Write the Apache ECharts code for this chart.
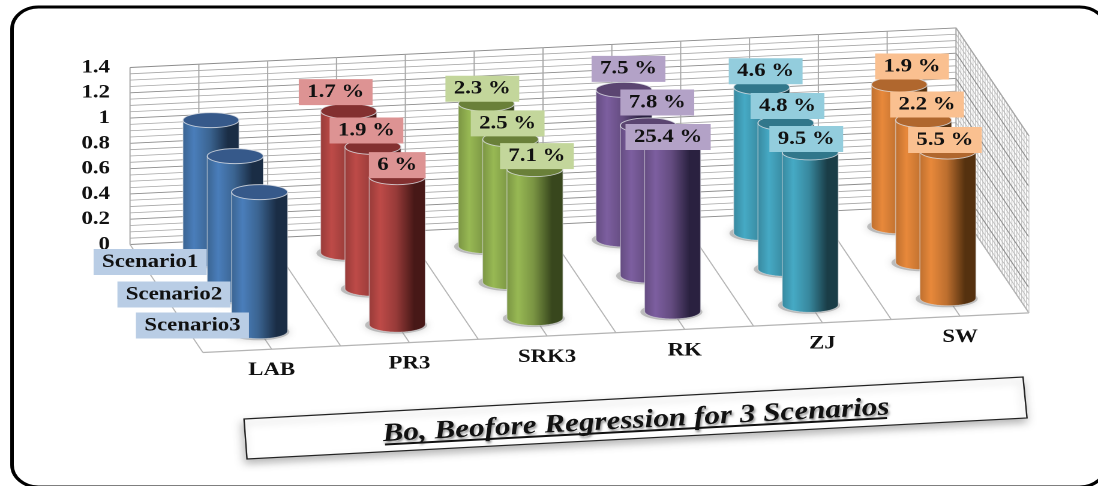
<!DOCTYPE html>
<html>
<head>
<meta charset="utf-8">
<style>
  html, body { margin: 0; padding: 0; background: #fff; overflow: hidden; }
  /* The drawing is laid out narrow and widened as a whole, type and cylinders alike. */
  #chart { width: 915px; height: 486px; transform: scaleX(1.2); transform-origin: 0 0; }
</style>
<script src="https://cdn.jsdelivr.net/npm/echarts@6/dist/echarts.min.js"></script>
</head>
<body>
<div id="chart"></div>
<script>
// ---- Data ----
const categories = ['LAB', 'PR3', 'SRK3', 'RK', 'ZJ', 'SW'];
const scenarioNames = ['Scenario1', 'Scenario2', 'Scenario3'];
const scenario1 = [1.1, 1.119, 1.125, 1.183, 1.151, 1.121];
const scenario2 = [1.1, 1.121, 1.128, 1.186, 1.153, 1.124];
const scenario3 = [1.1, 1.166, 1.178, 1.379, 1.205, 1.16];
const errors1 = [null, '1.7 %', '2.3 %', '7.5 %', '4.6 %', '1.9 %'];
const errors2 = [null, '1.9 %', '2.5 %', '7.8 %', '4.8 %', '2.2 %'];
const errors3 = [null, '6 %', '7.1 %', '25.4 %', '9.5 %', '5.5 %'];
const chartTitle = 'Bo, Beofore Regression for 3 Scenarios';

// ---- Layout (horizontal lengths are in final page pixels, see sx) ----
const WIDEN = 1.2;
const sx = (px) => px / WIDEN;
const DEPTH_X = sx(24.3);   // screen shift per depth row
const DEPTH_Y = 36;
const RISE = -6.6;          // floor rises to the right, per category
const RADIUS_X = sx(28);
const RADIUS_Y = 7.5;
const FONT = 'bold 19px "Liberation Serif", "Times New Roman", serif';

// Hand-placed callout offsets from each cylinder's top centre, [dx, dy] per category.
const calloutNudge = [
  [null, [-13, -19], [-4, -15], [4.5, -21], [4, -16], [12.7, -18]],
  [null, [-6.5, -16.4], [-3, -16], [9, -23], [1.5, -17], [3.4, -15.6]],
  [null, [0, -12], [2, -13], [-4.5, 0], [-4, -13.5], [-3, -11.6]]
];
const rowLabelNudge = [[8, -0.5], [7.5, -4], [1.7, -9]];

const palette = [
  { base: '#4a7ebb', mid: '#3b6491', dark: '#1a2d45', top: '#36598a', tag: '#b9cde5' },
  { base: '#be4b48', mid: '#973b39', dark: '#471817', top: '#833030', tag: '#dd9393' },
  { base: '#98b954', mid: '#7a9443', dark: '#38471d', top: '#6a8039', tag: '#c3d69b' },
  { base: '#7d5fa0', mid: '#644c80', dark: '#2a2140', top: '#5b4571', tag: '#b3a2c7' },
  { base: '#46aac5', mid: '#38889e', dark: '#1a3d47', top: '#31778b', tag: '#93cddd' },
  { base: '#e8893b', mid: '#bd6f2f', dark: '#55310f', top: '#b0672e', tag: '#fac090' }
];

// Maps (category position, depth row, value) onto the tilted floor, using the axes' scales.
function projector(api) {
  const band = api.size([1, 0])[0];
  const x0 = api.coord([0, 0])[0] - band / 2;
  return (u, d, v) => {
    const c = api.coord([0, v]);
    return [x0 + u * band + d * DEPTH_X, c[1] + u * RISE + d * DEPTH_Y];
  };
}

const line = (a, b, stroke, lineWidth) => ({
  type: 'line',
  shape: { x1: a[0], y1: a[1], x2: b[0], y2: b[1] },
  style: { stroke, lineWidth }
});

// Back wall, side wall and floor.
function renderRoom(params, api) {
  const p = projector(api);
  const n = categories.length, depth = scenarioNames.length, top = 1.4;
  const kids = [];
  // side wall hatch
  for (let d = 0; d <= depth; d += 0.1) kids.push(line(p(n, d, 0), p(n, d, top), '#c4c4c4', 0.7));
  for (let k = 0; k <= 28; k++) {
    const v = k * 0.05;
    const major = k % 4 === 0;
    kids.push(line(p(n, 0, v), p(n, depth, v), major ? '#8e8e8e' : '#bcbcbc', major ? 0.9 : 0.7));
    // back wall rules
    kids.push(line(p(0, 0, v), p(n, 0, v), major ? '#8c8c8c' : '#a6a6a6', major ? 0.9 : 0.8));
  }
  // back wall uprights and floor rules at every half category
  for (let h = 0; h <= n * 2; h++) {
    const u = h / 2;
    kids.push(line(p(u, 0, 0), p(u, 0, top), h === 0 ? '#aaaaaa' : '#a8a8a8', 1));
    kids.push(line(p(u, 0, 0), p(u, depth, 0), '#b4b4b4', 1));
  }
  kids.push(line(p(n, 0, top), p(n, depth, top), '#a8a8a8', 1));
  kids.push(line(p(n, depth, 0), p(n, depth, top), '#d0d0d0', 0.8));
  kids.push(line(p(0, depth, 0), p(n, depth, 0), '#b4b4b4', 1.2));
  return { type: 'group', children: kids };
}

// One row of cylinders.
function cylinderRenderer(row) {
  return (params, api) => {
    const p = projector(api);
    const i = api.value(0), v = api.value(1);
    const c = palette[i];
    const foot = p(i + 0.5, row + 0.5, 0);
    const head = p(i + 0.5, row + 0.5, v);
    const outline = [[foot[0] - RADIUS_X, head[1]]];
    for (let a = 0; a <= 24; a++) {
      const t = Math.PI - (a / 24) * Math.PI;
      outline.push([foot[0] + RADIUS_X * Math.cos(t), foot[1] + RADIUS_Y * Math.sin(t)]);
    }
    outline.push([foot[0] + RADIUS_X, head[1]]);
    return {
      type: 'group',
      children: [
        {
          type: 'ellipse',
          shape: { cx: foot[0] - 1, cy: foot[1] + 0.5, rx: RADIUS_X + 2.5, ry: RADIUS_Y + 1 },
          style: { fill: 'rgba(120,120,120,0.4)', shadowBlur: 7, shadowColor: 'rgba(110,110,110,0.75)' }
        },
        {
          type: 'polygon',
          shape: { points: outline },
          style: {
            fill: {
              type: 'linear', x: 0, y: 0, x2: 1, y2: 0,
              colorStops: [
                { offset: 0, color: c.mid },
                { offset: 0.2, color: c.base },
                { offset: 0.48, color: c.mid },
                { offset: 0.8, color: c.dark },
                { offset: 1, color: c.dark }
              ]
            },
            stroke: 'rgba(225,228,232,0.55)',
            lineWidth: 0.8
          }
        },
        {
          type: 'ellipse',
          shape: { cx: head[0], cy: head[1], rx: RADIUS_X, ry: RADIUS_Y },
          style: { fill: c.top, stroke: 'rgba(225,228,232,0.8)', lineWidth: 0.9 }
        }
      ]
    };
  };
}

const tagText = (x, y, text, fill) => ({
  type: 'text',
  x, y,
  style: {
    text,
    font: FONT,
    fill: '#111',
    align: 'center',
    verticalAlign: 'middle',
    lineHeight: 19,
    backgroundColor: fill,
    padding: [3.5, 7]
  }
});

// Percentage callouts above the cylinders.
function renderCallout(params, api) {
  const p = projector(api);
  const i = api.value(0), row = api.value(1), v = api.value(2);
  const text = [errors1, errors2, errors3][row][i];
  if (!text) return null;
  const head = p(i + 0.5, row + 0.5, v);
  const n = calloutNudge[row][i];
  return tagText(head[0] + sx(n[0]), head[1] + n[1], text, palette[i].tag);
}

// Depth-row names beside the floor's left edge.
function renderRowLabel(params, api) {
  const p = projector(api);
  const row = api.value(0);
  const at = p(0, row + 0.5, 0);
  const n = rowLabelNudge[row];
  return tagText(at[0] + sx(n[0]), at[1] + n[1], scenarioNames[row], palette[0].tag);
}

// Category names in front of the floor.
function renderCategoryLabel(params, api) {
  const p = projector(api);
  const i = api.value(0);
  const at = p(i + 0.5, scenarioNames.length, 0);
  return {
    type: 'text',
    x: at[0], y: at[1] + 21,
    style: { text: categories[i], font: FONT, fill: '#111', align: 'center', verticalAlign: 'middle' }
  };
}

const rows = [scenario1, scenario2, scenario3];
const calloutData = [];
rows.forEach((values, row) => values.forEach((v, i) => calloutData.push([i, row, v])));

const custom = (name, renderItem, data, z) => ({
  type: 'custom', name, renderItem, data, z, silent: true,
  coordinateSystem: 'cartesian2d', clip: false,
  encode: { x: 0, y: 2 }
});

const option = {
  animation: false,
  backgroundColor: '#fff',
  grid: { left: sx(130), width: sx(826), top: 67.5, height: 177 },
  xAxis: {
    type: 'category',
    data: categories,
    axisLine: { show: false }, axisTick: { show: false }, axisLabel: { show: false }, splitLine: { show: false }
  },
  yAxis: {
    type: 'value',
    min: 0, max: 1.4, interval: 0.2,
    axisLine: { show: false }, axisTick: { show: false }, splitLine: { show: false },
    axisLabel: {
      margin: sx(20),
      color: '#111',
      fontFamily: '"Liberation Serif", "Times New Roman", serif',
      fontWeight: 'bold',
      fontSize: 19,
      padding: [0, 0, 2, 0]
    }
  },
  series: [
    custom('room', renderRoom, [[0, 0, 0]], 1),
    ...rows.map((values, row) => ({
      type: 'custom',
      name: scenarioNames[row],
      renderItem: cylinderRenderer(row),
      data: values.map((v, i) => [i, v]),
      z: 2 + row,
      silent: true,
      clip: false,
      encode: { x: 0, y: 1 }
    })),
    custom('categories', renderCategoryLabel, categories.map((c, i) => [i, 0, 0]), 6),
    custom('rows', renderRowLabel, scenarioNames.map((s, i) => [i, 0, 0]), 7),
    custom('callouts', renderCallout, calloutData, 8)
  ],
  graphic: [
    {
      type: 'rect', z: 0,
      shape: { x: sx(12), y: 7, width: sx(1094), height: 480, r: 22 },
      style: { fill: 'none', stroke: '#000', lineWidth: 3 }
    },
    {
      type: 'polygon', z: 9,
      shape: { points: [[sx(244), 419], [sx(1023), 377], [sx(1027), 418], [sx(247), 459]] },
      style: {
        fill: '#fff', stroke: '#222', lineWidth: 1.2,
        shadowBlur: 8, shadowOffsetX: -1, shadowOffsetY: 4, shadowColor: 'rgba(0,0,0,0.28)'
      }
    },
    {
      type: 'text', z: 10,
      x: sx(636), y: 421,
      rotation: Math.atan(26.5 / sx(502)),
      style: {
        text: chartTitle,
        font: 'italic bold 26px "Liberation Serif", "Times New Roman", serif',
        fill: '#111',
        align: 'center',
        verticalAlign: 'middle',
        textShadowColor: 'rgba(0,0,0,0.45)',
        textShadowBlur: 2,
        textShadowOffsetX: 1,
        textShadowOffsetY: 2
      }
    },
    {
      type: 'line', z: 10,
      shape: { x1: sx(385), y1: 444.5, x2: sx(887), y2: 418 },
      style: { stroke: '#111', lineWidth: 2 }
    }
  ]
};

const chart = echarts.init(document.getElementById('chart'), null, { devicePixelRatio: 2 });
chart.setOption(option);
</script>
</body>
</html>
